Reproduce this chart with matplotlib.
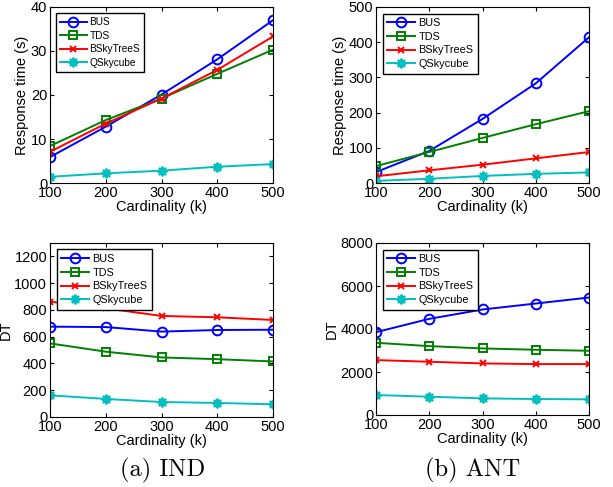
import matplotlib
matplotlib.use("Agg")
from matplotlib import pyplot as plt

plt.rcParams['font.family'] = ['Liberation Sans', 'DejaVu Sans']

card = [100, 200, 300, 400, 500]
names = ["BUS", "TDS", "BSkyTreeS", "QSkycube"]

# response time (s), IND
ind_rt_bus = [5.9, 12.8, 20.1, 28.1, 37.0]
ind_rt_tds = [8.4, 14.3, 19.2, 24.8, 30.3]
ind_rt_bsky = [7.1, 13.5, 19.2, 25.7, 33.3]
ind_rt_qsky = [1.4, 2.2, 2.8, 3.7, 4.3]

# response time (s), ANT
ant_rt_bus = [31, 91, 182, 283, 414]
ant_rt_tds = [48, 88, 128, 167, 204]
ant_rt_bsky = [19, 36, 52, 70, 88]
ant_rt_qsky = [6, 12, 20, 26, 30]

# DT, IND
ind_dt_bus = [675, 672, 638, 650, 652]
ind_dt_tds = [550, 488, 445, 432, 415]
ind_dt_bsky = [862, 812, 755, 745, 725]
ind_dt_qsky = [162, 135, 112, 105, 95]

# DT, ANT
ant_dt_bus = [3853, 4472, 4907, 5185, 5464]
ant_dt_tds = [3359, 3204, 3096, 3034, 2988]
ant_dt_bsky = [2554, 2477, 2399, 2368, 2368]
ant_dt_qsky = [929, 851, 774, 743, 728]

colors = [(0, 0, 1), (0, 0.5, 0), (1, 0, 0), (0, 0.75, 0.75)]
markers = ["o", "s", "x", (8, 2, 0)]
msizes = [7, 6, 5, 7]

W, H = 613.0, 487.0
fig = plt.figure(figsize=(W / 100, H / 100), dpi=100)

def px_axes(x0, x1, ytop, ybot):
    return fig.add_axes([x0 / W, 1 - ybot / H, (x1 - x0) / W, (ybot - ytop) / H])

def panel(ax, series, ylim, yticks, ylabel, legsize):
    for s, c, m, ms, n in zip(series, colors, markers, msizes, names):
        ax.plot(card, s, color=c, marker=m, markersize=ms, markerfacecolor='none',
                markeredgewidth=1.4, linewidth=1.4, label=n)
    ax.set_xlim(100, 500)
    ax.set_ylim(*ylim)
    ax.set_xticks(card)
    ax.set_yticks(yticks)
    ax.tick_params(direction='in', top=True, right=True, labelsize=10.5, length=3, pad=2)
    ax.set_xlabel("Cardinality (k)", fontsize=10.5, labelpad=0)
    ax.set_ylabel(ylabel, fontsize=10.5, labelpad=1)
    leg = ax.legend(loc='upper left', fontsize=legsize, fancybox=False, framealpha=1,
                    edgecolor='black', handlelength=2.6, borderaxespad=0.6,
                    labelspacing=0.35, borderpad=0.4, handletextpad=0.3)
    leg.get_frame().set_linewidth(1.0)

ax1 = px_axes(50, 273, 7, 183)
panel(ax1, [ind_rt_bus, ind_rt_tds, ind_rt_bsky, ind_rt_qsky], (0, 40), [0, 10, 20, 30, 40],
      "Response time (s)", 7.3)
ax2 = px_axes(376, 589, 7, 183)
panel(ax2, [ant_rt_bus, ant_rt_tds, ant_rt_bsky, ant_rt_qsky], (0, 500), [0, 100, 200, 300, 400, 500],
      "Response time (s)", 7.8)
ax3 = px_axes(50, 273, 243, 417)
panel(ax3, [ind_dt_bus, ind_dt_tds, ind_dt_bsky, ind_dt_qsky], (0, 1300), [0, 200, 400, 600, 800, 1000, 1200],
      "DT", 7.8)
ax4 = px_axes(376, 589, 243, 415)
panel(ax4, [ant_dt_bus, ant_dt_tds, ant_dt_bsky, ant_dt_qsky], (0, 8000), [0, 2000, 4000, 6000, 8000],
      "DT", 7.8)

fig.text(163 / W, 1 - 470 / H, "(a) IND", ha='center', va='center', fontsize=17.7, family='cmr10')
fig.text(473 / W, 1 - 470 / H, "(b) ANT", ha='center', va='center', fontsize=17.7, family='cmr10')

fig.savefig("out.png", dpi=100)
